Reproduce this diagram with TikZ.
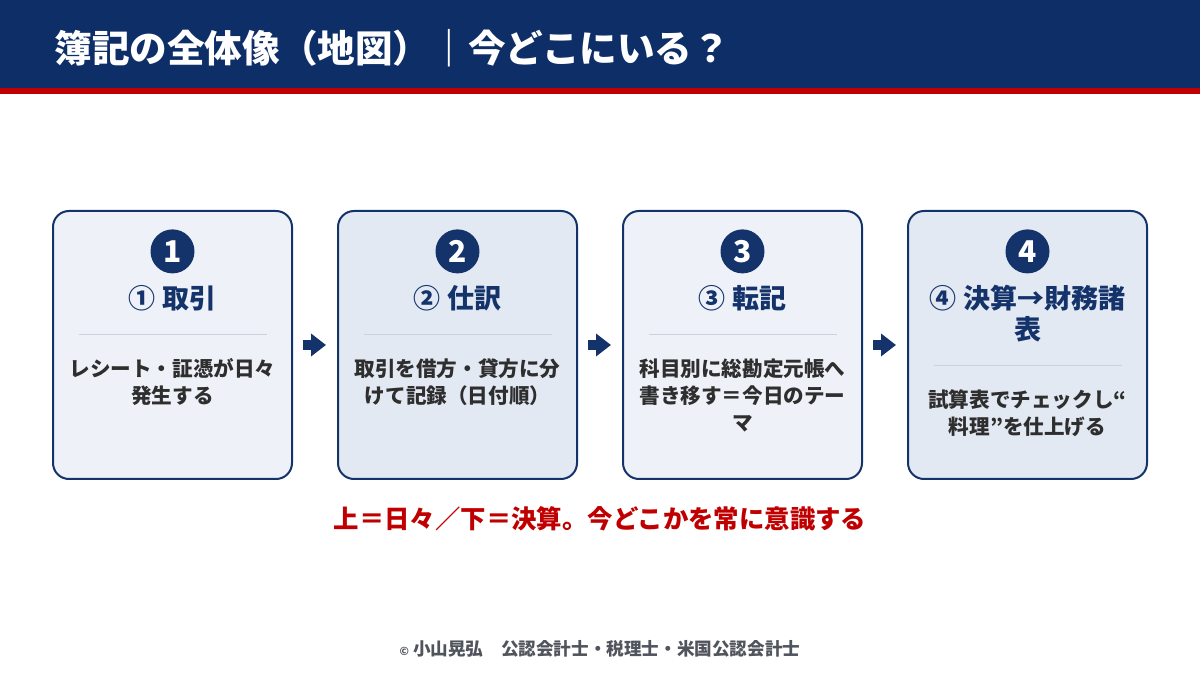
\documentclass[tikz,border=0pt]{standalone}
\usepackage{fontspec}
\setmainfont{Noto Sans CJK JP}
\usetikzlibrary{positioning, arrows.meta, calc}
\definecolor{navy}{HTML}{14336B}
\definecolor{hdr}{HTML}{0E2E68}
\definecolor{redline}{HTML}{C00000}
\definecolor{redtxt}{HTML}{C00000}
\definecolor{fillA}{HTML}{EEF2F8}
\definecolor{fillB}{HTML}{E3E9F3}
\definecolor{rulegray}{HTML}{CBD2DC}
\definecolor{bodytxt}{HTML}{2E2E2E}
\definecolor{foot}{HTML}{50545C}

\begin{document}
\begin{tikzpicture}[>={Triangle[length=7.5pt,width=11pt]},
  box/.style={draw=navy,line width=1pt,rounded corners=8pt,minimum width=119.5pt,minimum height=134pt,inner sep=0pt},
  num/.style={circle,fill=navy,text=white,minimum size=22pt,inner sep=0pt,font=\fontsize{15pt}{15pt}\selectfont\bfseries},
  head/.style={text=navy,align=center,inner sep=0pt,font=\fontsize{13.5pt}{15.5pt}\selectfont\bfseries},
  body/.style={text=bodytxt,align=center,inner sep=0pt,font=\fontsize{10.3pt}{13.5pt}\selectfont\bfseries},
  sep/.style={draw=rulegray,line width=0.6pt},
  flow/.style={->,draw=navy,line width=5pt,shorten <=5pt,shorten >=5.5pt},
  node distance=22pt]
  \useasboundingbox (0,0) rectangle (600pt,337.5pt);
  \fill[white] (0,0) rectangle (600pt,337.5pt);
  % header band
  \fill[hdr] (0,293.5pt) rectangle (600pt,337.5pt);
  \fill[redline] (0,290.5pt) rectangle (600pt,293.5pt);
  \node[anchor=west,text=white,inner sep=0pt,font=\fontsize{18.8pt}{20pt}\selectfont\bfseries] (title) at (27pt,313.5pt) {簿記の全体像（地図）｜今どこにいる？};

  % four stages
  \node[box,fill=fillA] (b1) at (86.25pt,165pt) {};
  \node[box,fill=fillB,right=of b1] (b2) {};
  \node[box,fill=fillA,right=of b2] (b3) {};
  \node[box,fill=fillB,right=of b3] (b4) {};

  \node[num,below=9.5pt of b1.north] (n1) {1};
  \node[head,below=5.5pt of n1] (h1) {① 取引};
  \coordinate[below=11.5pt of h1] (s1);
  \draw[sep] ($(s1)+(-47pt,0)$) -- ($(s1)+(47pt,0)$);
  \node[body,below=12pt of s1] (d1) {レシート・証憑が日々\\発生する};

  \node[num,below=9.5pt of b2.north] (n2) {2};
  \node[head,below=5.5pt of n2] (h2) {② 仕訳};
  \coordinate[below=11.5pt of h2] (s2);
  \draw[sep] ($(s2)+(-47pt,0)$) -- ($(s2)+(47pt,0)$);
  \node[body,below=12pt of s2] (d2) {取引を借方・貸方に分\\けて記録（日付順）};

  \node[num,below=9.5pt of b3.north] (n3) {3};
  \node[head,below=5.5pt of n3] (h3) {③ 転記};
  \coordinate[below=11.5pt of h3] (s3);
  \draw[sep] ($(s3)+(-47pt,0)$) -- ($(s3)+(47pt,0)$);
  \node[body,below=12pt of s3] (d3) {科目別に総勘定元帳へ\\書き移す＝今日のテー\\マ};

  \node[num,below=9.5pt of b4.north] (n4) {4};
  \node[head,below=5.5pt of n4] (h4) {④ 決算→財務諸\\表};
  \coordinate[below=11.5pt of h4] (s4);
  \draw[sep] ($(s4)+(-47pt,0)$) -- ($(s4)+(47pt,0)$);
  \node[body,below=12pt of s4] (d4) {試算表でチェックし“\\料理”を仕上げる};

  \draw[flow] (b1) -- (b2);
  \draw[flow] (b2) -- (b3);
  \draw[flow] (b3) -- (b4);

  \node[text=redtxt,font=\fontsize{12.7pt}{14pt}\selectfont\bfseries] (note) at (300pt,78pt) {上＝日々／下＝決算。今どこかを常に意識する};
  \node[text=foot,font=\fontsize{8.8pt}{10pt}\selectfont\bfseries] (credit) at (300pt,13pt) {{\fontsize{5.5pt}{6pt}\selectfont ©}\ 小山晃弘\hspace{1em}公認会計士・税理士・米国公認会計士};
\end{tikzpicture}
\end{document}
